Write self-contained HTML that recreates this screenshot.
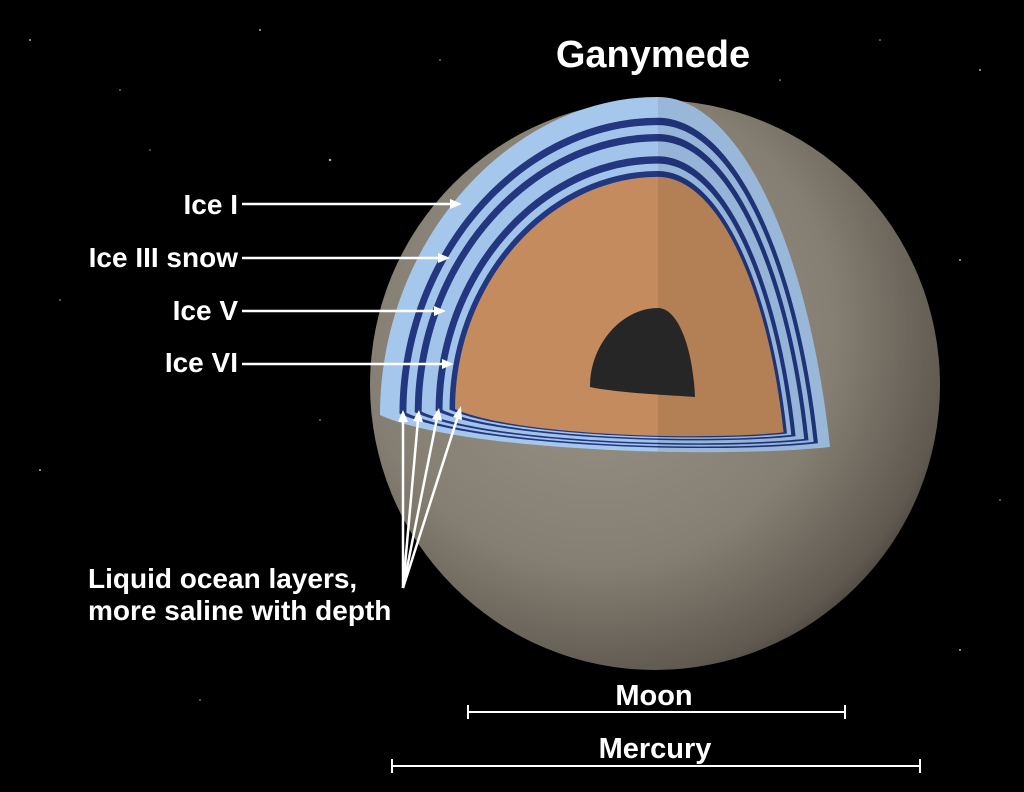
<!DOCTYPE html>
<html><head><meta charset="utf-8"><style>
html,body{margin:0;padding:0;background:#000;}
svg{display:block}
text{font-family:"Liberation Sans",sans-serif;font-weight:bold;fill:#fff}
</style></head><body>
<svg width="1024" height="792" viewBox="0 0 1024 792" xmlns="http://www.w3.org/2000/svg">
<defs>
<radialGradient id="sph" cx="0.4" cy="0.4" r="0.7">
<stop offset="0" stop-color="#9c968a"/>
<stop offset="0.6" stop-color="#857e72"/>
<stop offset="0.88" stop-color="#5f5950"/>
<stop offset="1" stop-color="#35312c"/>
</radialGradient>
<path id="shape" d="M -278,22 C -278,-150 -150,-296 0,-296 C 80,-296 150,-150 172,54 C 60,66 -200,58 -278,22 Z"/>
<clipPath id="rt"><rect x="0" y="-400" width="400" height="800"/></clipPath>
</defs>
<rect width="1024" height="792" fill="#000"/>
<g fill="#fff" opacity="0.7">
<circle cx="30" cy="40" r="1"/><circle cx="120" cy="90" r="0.8"/><circle cx="260" cy="30" r="1"/><circle cx="330" cy="160" r="1.2"/><circle cx="60" cy="300" r="0.8"/><circle cx="980" cy="70" r="1"/><circle cx="880" cy="40" r="0.8"/><circle cx="960" cy="260" r="1"/><circle cx="1000" cy="500" r="0.8"/><circle cx="40" cy="470" r="1"/><circle cx="200" cy="700" r="0.8"/><circle cx="960" cy="650" r="1"/><circle cx="320" cy="420" r="0.8"/><circle cx="150" cy="150" r="0.7"/><circle cx="440" cy="60" r="0.8"/><circle cx="780" cy="80" r="0.8"/>
</g>
<circle cx="655" cy="385" r="285" fill="url(#sph)"/>
<g transform="translate(658,393)">
<use href="#shape" fill="#a6c7ec"/>
<use href="#shape" fill="#22377f" transform="scale(0.93)"/>
<use href="#shape" fill="#a3c4ea" transform="scale(0.905)"/>
<use href="#shape" fill="#22377f" transform="scale(0.875)"/>
<use href="#shape" fill="#a3c4ea" transform="scale(0.85)"/>
<use href="#shape" fill="#22377f" transform="scale(0.8)"/>
<use href="#shape" fill="#a3c4ea" transform="scale(0.775)"/>
<use href="#shape" fill="#22377f" transform="scale(0.75)"/>
<use href="#shape" fill="#c38b5e" transform="scale(0.73)"/>
<g clip-path="url(#rt)"><use href="#shape" fill="#000" opacity="0.08"/></g>
<path d="M -68,-6 C -68,-50 -35,-85 0,-85 C 20,-85 35,-45 37,4 C 10,2 -40,0 -68,-6 Z" fill="#262626"/>
</g>
<text x="653" y="67" font-size="38" text-anchor="middle">Ganymede</text>
<g font-size="28" text-anchor="end">
<text x="238" y="214">Ice I</text>
<text x="238" y="267">Ice III snow</text>
<text x="238" y="320">Ice V</text>
<text x="238" y="372">Ice VI</text>
</g>
<g stroke="#fff" stroke-width="2.5" fill="#fff">
<line x1="242" y1="204" x2="452" y2="204"/><polygon points="462,204 450,199 450,209" stroke="none"/>
<line x1="242" y1="258" x2="440" y2="258"/><polygon points="450,258 438,253 438,263" stroke="none"/>
<line x1="242" y1="311" x2="436" y2="311"/><polygon points="446,311 434,306 434,316" stroke="none"/>
<line x1="242" y1="364" x2="444" y2="364"/><polygon points="454,364 442,359 442,369" stroke="none"/>
<line x1="403" y1="588" x2="403" y2="420"/>
<line x1="403" y1="588" x2="418" y2="420"/>
<line x1="403" y1="588" x2="437" y2="418"/>
<line x1="403" y1="588" x2="458" y2="416"/>
</g>
<g fill="#fff">
<polygon points="403,410 398,422 408,422"/>
<polygon points="419,410 413,421 423,422"/>
<polygon points="439,408 432,419 442,421"/>
<polygon points="461,406 453,417 462,420"/>
</g>
<text x="88" y="588" font-size="28">Liquid ocean layers,</text>
<text x="88" y="620" font-size="28">more saline with depth</text>
<text x="654" y="705" font-size="29" text-anchor="middle">Moon</text>
<text x="655" y="758" font-size="29" text-anchor="middle">Mercury</text>
<g stroke="#fff" stroke-width="2">
<line x1="468" y1="712" x2="845" y2="712"/><line x1="468" y1="705" x2="468" y2="719"/><line x1="845" y1="705" x2="845" y2="719"/>
<line x1="392" y1="766" x2="920" y2="766"/><line x1="392" y1="759" x2="392" y2="773"/><line x1="920" y1="759" x2="920" y2="773"/>
</g>
</svg>
</body></html>
